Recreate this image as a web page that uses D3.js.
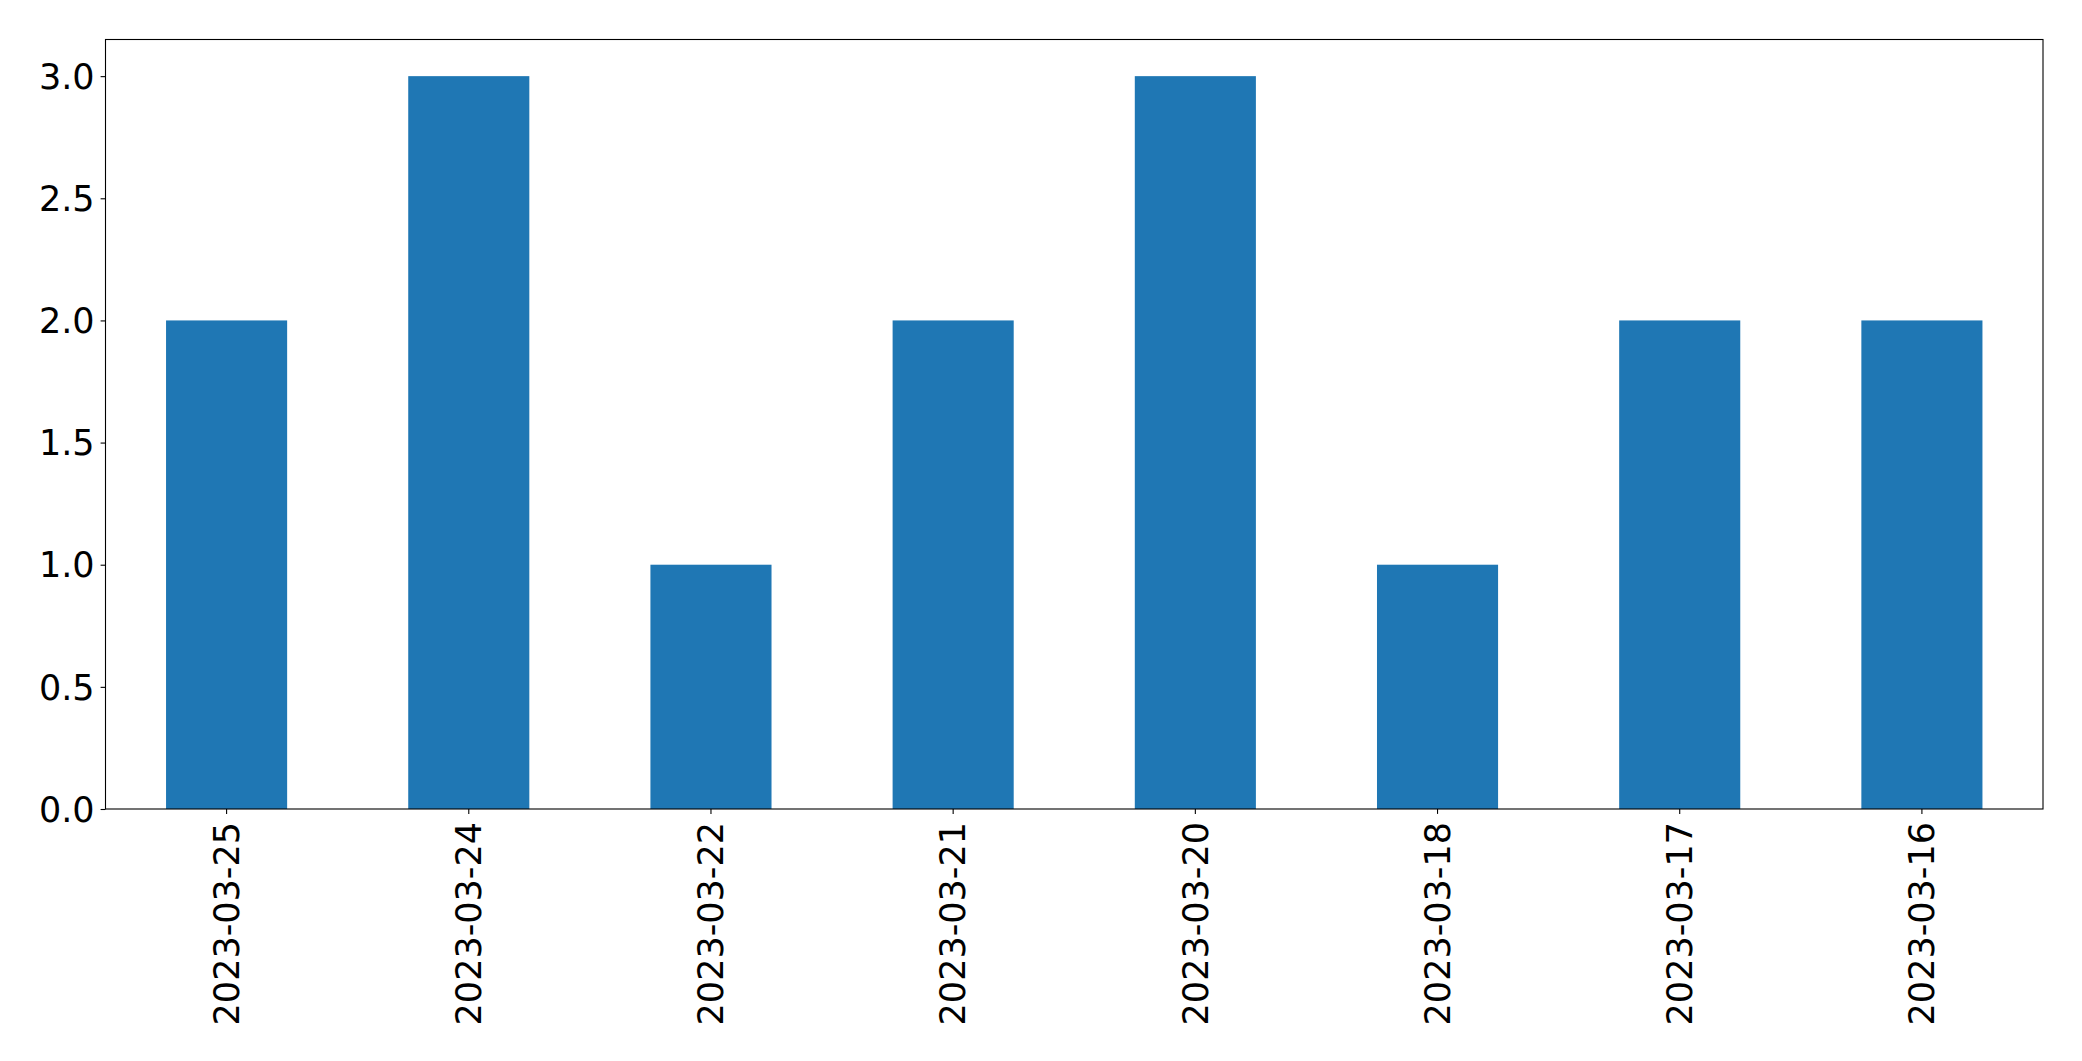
<!DOCTYPE html>
<html>
<head>
<meta charset="utf-8">
<script src="https://cdn.jsdelivr.net/npm/d3@7"></script>
<style>
  body { margin: 0; background: #fff; }
  svg text { font-family: "DejaVu Sans", sans-serif; fill: #000; }
</style>
</head>
<body>
<div id="chart"></div>
<script>
// Dates on the x axis and the count for each
var dates = ["2023-03-25", "2023-03-24", "2023-03-22", "2023-03-21",
             "2023-03-20", "2023-03-18", "2023-03-17", "2023-03-16"];
var counts = [2, 3, 1, 2, 3, 1, 2, 2];
var yTicks = [0, 0.5, 1, 1.5, 2, 2.5, 3];

var W = 2082, H = 1061;
var margin = { top: 39.5, right: 39, bottom: 252, left: 105.5 },
  width = W - margin.left - margin.right,
  height = H - margin.top - margin.bottom;

var svg = d3.select("#chart")
  .append("svg")
  .attr("width", W)
  .attr("height", H)
  .append("g")
  .attr("transform", "translate(" + margin.left + "," + margin.top + ")");

// X: band scale, bars take half of each step
var x = d3.scaleBand()
  .domain(dates)
  .range([0, width])
  .paddingInner(0.5)
  .paddingOuter(0.25);

// Y: matplotlib style 5% head room
var y = d3.scaleLinear()
  .domain([0, d3.max(counts) * 1.05])
  .range([height, 0]);

// Bars
svg.append("g")
  .selectAll("rect")
  .data(counts)
  .enter().append("rect")
  .attr("x", function(d, i) { return x(dates[i]); })
  .attr("y", function(d) { return y(d); })
  .attr("width", x.bandwidth())
  .attr("height", function(d) { return height - y(d); })
  .attr("fill", "#1f77b4");

// Y axis
var yAxis = svg.append("g")
  .call(d3.axisLeft(y).tickValues(yTicks).tickFormat(d3.format(".1f"))
    .tickSize(4.9).tickPadding(6));
yAxis.selectAll("text").style("font-size", "35px").attr("dy", "0.35em");

// X axis
var xAxis = svg.append("g")
  .attr("transform", "translate(0," + height + ")")
  .call(d3.axisBottom(x).tickSize(4.9).tickPadding(0));
xAxis.selectAll("text")
  .style("font-size", "35px")
  .attr("text-anchor", "end")
  .attr("dy", "0.35em")
  .attr("transform", "translate(0,13) rotate(-90)")
  .attr("x", 0)
  .attr("y", 0);

svg.selectAll(".domain").remove();
svg.selectAll(".tick line").attr("stroke", "#000").attr("stroke-width", 1.1);

// Frame round the plot area
svg.append("rect")
  .attr("width", width)
  .attr("height", height)
  .attr("fill", "none")
  .attr("stroke", "#000")
  .attr("stroke-width", 1.1);
</script>
</body>
</html>
